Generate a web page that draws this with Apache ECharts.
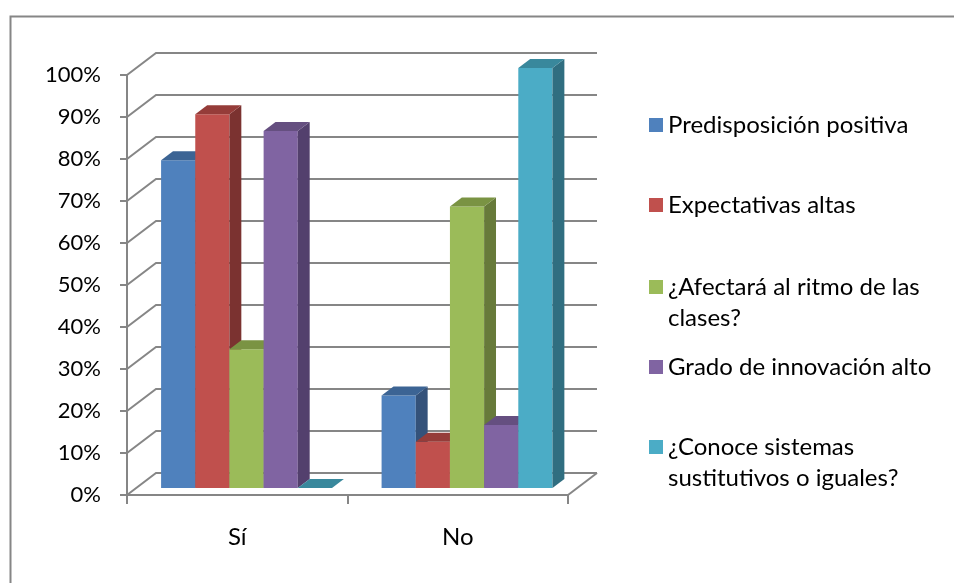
<!DOCTYPE html>
<html>
<head>
<meta charset="utf-8">
<script src="https://cdn.jsdelivr.net/npm/echarts@6/dist/echarts.min.js"></script>
<style>
  html, body { margin: 0; padding: 0; background: #ffffff; }
  #chart { width: 954px; height: 583px; }
</style>
</head>
<body>
<div id="chart"></div>
<script>
// Survey answers (percent of respondents)
const categories = ['Sí', 'No'];
const seriesNames = [
  'Predisposición positiva',
  'Expectativas altas',
  '¿Afectará al ritmo de las clases?',
  'Grado de innovación alto',
  '¿Conoce sistemas sustitutivos o iguales?'
];
const predisposicion = [78, 22];
const expectativas = [89, 11];
const afectara = [33, 67];
const innovacion = [85, 15];
const conoce = [0, 100];
const yTicks = [0, 10, 20, 30, 40, 50, 60, 70, 80, 90, 100];

// Legend text split over lines as shown in the legend column
const legendLines = {
  'Predisposición positiva': ['Predisposición positiva'],
  'Expectativas altas': ['Expectativas altas'],
  '¿Afectará al ritmo de las clases?': ['¿Afectará al ritmo de las', 'clases?'],
  'Grado de innovación alto': ['Grado de innovación alto'],
  '¿Conoce sistemas sustitutivos o iguales?': ['¿Conoce sistemas', 'sustitutivos o iguales?']
};

const seriesValues = [predisposicion, expectativas, afectara, innovacion, conoce];

// Face colours: front, right side, top
const palette = [
  { front: '#4F81BD', side: '#34527A', top: '#3C6494' },
  { front: '#C0504D', side: '#7B3230', top: '#953C39' },
  { front: '#9BBB59', side: '#677A3A', top: '#7A9343' },
  { front: '#8064A2', side: '#53406D', top: '#654F80' },
  { front: '#4BACC6', side: '#306E80', top: '#39889C' }
];

const FONT = 'Lato';
const GRID_COLOR = '#868686';
// Depth of the back wall (pseudo 3D projection)
const DX = 29, DY = -22;
// Bars sit part-way into the floor and have their own depth
const BAR_POS = 0.32, BAR_DEPTH = 0.41;
const BAR_FRACTION = 0.155;

const chart = echarts.init(document.getElementById('chart'), null, { renderer: 'canvas' });

function wallRender(params, api) {
  const cs = params.coordSys;
  const v = api.value(1);
  const y = api.coord([0, v])[1];
  const x0 = cs.x, x1 = cs.x + cs.width;
  const style = { stroke: GRID_COLOR, lineWidth: 2, fill: null };
  const children = [{
    type: 'polyline',
    shape: { points: [[x0, y], [x0 + DX, y + DY], [x1 + DX, y + DY]] },
    style: style
  }];
  if (v === 0) {
    children.push({
      type: 'polyline',
      shape: { points: [[x1, y], [x1 + DX, y + DY]] },
      style: style
    });
  }
  return { type: 'group', children: children };
}

function barRenderer(idx) {
  const col = palette[idx];
  return function (params, api) {
    const cat = api.value(0);
    const val = api.value(1);
    const base = api.coord([cat, 0]);
    const topPt = api.coord([cat, val]);
    const band = api.size([1, 0])[0];
    const w = band * BAR_FRACTION;
    const ox = DX * BAR_POS, oy = DY * BAR_POS;
    const dx = DX * BAR_DEPTH, dy = DY * BAR_DEPTH;
    const left = base[0] - 2.5 * w + idx * w + ox;
    const right = left + w;
    const yb = base[1] + oy;
    const yt = topPt[1] + oy;
    return {
      type: 'group',
      children: [
        {
          type: 'rect',
          shape: { x: left, y: yt, width: w, height: yb - yt },
          style: { fill: col.front, stroke: null }
        },
        {
          type: 'polygon',
          shape: { points: [[right, yt], [right + dx, yt + dy], [right + dx, yb + dy], [right, yb]] },
          style: { fill: col.side, stroke: null }
        },
        {
          type: 'polygon',
          shape: { points: [[left, yt], [right, yt], [right + dx, yt + dy], [left + dx, yt + dy]] },
          style: { fill: col.top, stroke: null }
        }
      ]
    };
  };
}

const legendCenters = [125, 205, 287, 367, 447];
const LINE_H = 31;
const legends = seriesNames.map(function (name, i) {
  const lines = legendLines[name];
  const wrapped = lines.length > 1;
  // A blank leading line keeps the first text line level with the swatch
  const label = wrapped ? '\n' + lines.join('\n') : lines[0];
  const nLines = wrapped ? 3 : 1;
  return {
    data: [name],
    orient: 'vertical',
    left: 649,
    top: legendCenters[i] - nLines * LINE_H / 2,
    padding: 0,
    icon: 'rect',
    itemWidth: 14,
    itemHeight: 14,
    selectedMode: false,
    formatter: function () { return label; },
    textStyle: {
      fontFamily: FONT,
      fontSize: 24,
      color: '#000000',
      lineHeight: LINE_H
    }
  };
});

const series = [{
  type: 'custom',
  name: 'wall',
  coordinateSystem: 'cartesian2d',
  silent: true,
  z: 1,
  renderItem: wallRender,
  data: yTicks.map(function (v) { return [0, v]; })
}];

seriesNames.forEach(function (name, i) {
  series.push({
    type: 'custom',
    name: name,
    coordinateSystem: 'cartesian2d',
    z: 10 + i,
    itemStyle: { color: palette[i].front },
    renderItem: barRenderer(i),
    encode: { x: 0, y: 1 },
    data: seriesValues[i].map(function (v, c) { return [c, v]; })
  });
});

chart.setOption({
  animation: false,
  backgroundColor: '#ffffff',
  graphic: [{
    type: 'rect',
    left: 8,
    top: 14,
    shape: { width: 980, height: 620 },
    style: { fill: null, stroke: GRID_COLOR, lineWidth: 2 },
    silent: true
  }],
  legend: legends,
  grid: { left: 127, top: 75, width: 441, height: 420 },
  xAxis: {
    type: 'category',
    data: categories,
    boundaryGap: true,
    axisLine: { show: true, lineStyle: { color: GRID_COLOR, width: 2 } },
    axisTick: { show: true, length: 9, lineStyle: { color: GRID_COLOR, width: 2 } },
    axisLabel: { margin: 30, fontFamily: FONT, fontSize: 24, color: '#000000' },
    splitLine: { show: false }
  },
  yAxis: {
    type: 'value',
    min: 0,
    max: 100,
    interval: 10,
    axisLine: { show: true, lineStyle: { color: GRID_COLOR, width: 2 } },
    axisTick: { show: true, length: 7, lineStyle: { color: GRID_COLOR, width: 2 } },
    axisLabel: { margin: 26, formatter: '{value}%', fontFamily: FONT, fontSize: 22, color: '#000000' },
    splitLine: { show: false }
  },
  series: series
});
</script>
</body>
</html>
